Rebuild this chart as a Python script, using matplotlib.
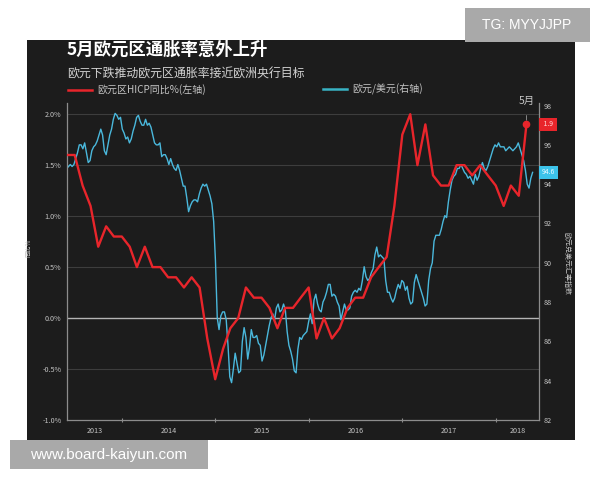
import matplotlib
matplotlib.use("Agg")
import matplotlib.pyplot as plt
import matplotlib.dates as mdates
import matplotlib.transforms as mtransforms
from matplotlib.patches import Rectangle
from matplotlib.lines import Line2D
import pandas as pd

plt.rcParams["font.family"] = ["Noto Sans CJK SC", "DejaVu Sans"]

BG = "#1c1c1c"
RED = "#e8252b"
CYAN = "#4ab8dc"
GRID = "#3d3d3d"
TXT = "#c4c4c4"
SPINE = "#8c8c8c"

title = "5月欧元区通胀率意外上升"
subtitle = "欧元下跌推动欧元区通胀率接近欧洲央行目标"
red_label = "欧元区HICP同比%(左轴)"
cyan_label = "欧元/美元(右轴)"
left_axis_label = "同比%"
right_axis_label = "欧元兑美元汇率指数"

# Eurozone HICP y/y, monthly from June 2013
hicp_start = "2013-06-01"
hicp = [1.6, 1.6, 1.3, 1.1, 0.7, 0.9, 0.8,
        0.8, 0.7, 0.5, 0.7, 0.5, 0.5, 0.4, 0.4, 0.3, 0.4, 0.3, -0.2,
        -0.6, -0.3, -0.1, 0.0, 0.3, 0.2, 0.2, 0.1, -0.1, 0.1, 0.1, 0.2,
        0.3, -0.2, 0.0, -0.2, -0.1, 0.1, 0.2, 0.2, 0.4, 0.5, 0.6, 1.1,
        1.8, 2.0, 1.5, 1.9, 1.4, 1.3, 1.3, 1.5, 1.5, 1.4, 1.5, 1.4,
        1.3, 1.1, 1.3, 1.2, 1.9]

# EUR/USD index, weekly from end of May 2013
eur_start = "2013-05-31"
eur = [94.8, 94.9, 95.0, 94.9, 95.0, 95.3, 95.6, 96.0, 96.0, 95.8,
       96.1, 95.6, 95.1, 95.2, 95.7, 95.9, 96.0, 96.2, 96.5, 96.8,
       96.5, 95.7, 95.5, 96.0, 96.5, 96.8, 97.3, 97.6, 97.5, 97.3,
       97.4, 96.8, 96.6, 96.3, 96.4, 96.1, 96.3, 96.7, 97.0, 97.4,
       97.5, 97.2, 97.0, 97.0, 97.3, 97.0, 97.1, 96.9, 96.5, 96.1,
       96.0, 96.0, 96.1, 95.4, 95.5, 95.5, 95.3, 95.0, 95.3, 95.0,
       94.8, 94.7, 95.0, 94.7, 94.3, 93.9, 93.9, 93.3, 92.6, 92.9,
       93.1, 93.2, 93.2, 93.1, 93.5, 93.8, 94.0, 93.9, 94.0, 93.7,
       93.4, 93.0, 92.1, 90.1, 87.2, 86.6, 87.3, 87.5, 87.5, 87.1,
       85.8, 84.2, 83.9, 84.6, 85.4, 84.9, 84.4, 84.5, 86.0, 86.7,
       86.2, 85.1, 85.7, 86.6, 86.2, 86.2, 86.3, 85.9, 85.8, 85.0,
       85.3, 85.8, 86.3, 86.8, 87.2, 87.4, 87.1, 87.7, 87.9, 87.5,
       87.6, 87.9, 87.6, 86.5, 85.8, 85.5, 85.1, 84.5, 84.4, 85.6,
       86.2, 86.1, 86.3, 86.4, 86.5, 87.0, 87.4, 86.9, 88.1, 88.4,
       87.9, 87.6, 87.5, 88.0, 88.2, 88.5, 88.9, 88.9, 88.3, 88.4,
       88.3, 88.0, 87.8, 87.1, 87.5, 87.9, 87.6, 87.6, 87.7, 88.3,
       88.5, 88.6, 88.5, 88.7, 88.6, 89.1, 89.8, 89.3, 89.1, 89.2,
       89.5, 89.7, 90.4, 90.8, 90.3, 90.4, 90.3, 90.2, 89.1, 88.5,
       88.5, 88.2, 88.0, 88.2, 88.6, 88.9, 88.7, 89.1, 89.0, 88.6,
       88.8, 88.2, 87.9, 88.0, 89.0, 89.4, 89.1, 88.8, 88.5, 88.2,
       87.8, 87.9, 89.1, 89.7, 90.0, 91.1, 91.4, 91.4, 91.4, 91.7,
       92.1, 92.4, 92.3, 93.1, 93.7, 94.2, 94.4, 94.5, 94.8, 94.8,
       95.0, 94.8, 94.6, 94.5, 94.3, 94.4, 94.2, 94.0, 94.5, 94.2,
       94.4, 94.8, 95.1, 94.8, 94.7, 94.9, 95.2, 95.5, 95.8, 96.0,
       95.9, 96.1, 95.9, 95.9, 95.9, 95.7, 95.8, 95.9, 95.8, 95.7,
       95.8, 95.9, 96.1, 95.8, 95.5, 95.2, 94.7, 94.0, 93.8, 94.3,
       94.6]

left_ticks = [-1.0, -0.5, 0.0, 0.5, 1.0, 1.5, 2.0]
right_ticks = [82, 84, 86, 88, 90, 92, 94, 96, 98]
years = [2013, 2014, 2015, 2016, 2017, 2018]
x_range = ("2013-06-01", "2018-06-19")

hicp_dates = pd.date_range(hicp_start, periods=len(hicp), freq="MS")
eur_dates = pd.date_range(eur_start, periods=len(eur), freq="7D")

fig = plt.figure(figsize=(6, 4.8), dpi=100)
fig.patch.set_facecolor("white")
fig.add_artist(Rectangle((27 / 600, 40 / 480), 548 / 600, 400 / 480,
                         transform=fig.transFigure, facecolor=BG,
                         edgecolor="none", zorder=0))

rect = [67 / 600, 60 / 480, 472 / 600, 317 / 480]
ax = fig.add_axes(rect)
ax2 = ax.twinx()
ax.set_zorder(2)
ax2.set_zorder(1)
ax.patch.set_visible(False)
ax2.patch.set_visible(False)

xmin, xmax = mdates.date2num(pd.to_datetime(list(x_range)))
ax.set_xlim(xmin, xmax)
ax.set_ylim(-1.0, 2.11)
ax2.set_ylim(82, 98.13)

# grid lines behind both series
grid_tf = mtransforms.blended_transform_factory(ax2.transAxes, ax.transData)
for v in left_ticks[1:]:
    ax2.plot([0, 1], [v, v], transform=grid_tf,
             color="#b4b4b4" if v == 0 else GRID,
             lw=1.0 if v == 0 else 0.8, zorder=0)

ax2.plot(mdates.date2num(eur_dates), eur, color=CYAN, lw=1.0, zorder=2)
ax.plot(mdates.date2num(hicp_dates), hicp, color=RED, lw=1.7, zorder=3)

# last HICP point
last_x = mdates.date2num(hicp_dates[-1])
ax.plot([last_x], [hicp[-1]], "o", color=RED, ms=4.5, zorder=4)
ax.annotate("5月", xy=(last_x, hicp[-1]), xytext=(0, 17),
            textcoords="offset points", ha="center", va="center",
            fontsize=7.5, color=TXT, annotation_clip=False,
            arrowprops=dict(arrowstyle="-", color="#9a9a9a", lw=0.6,
                            shrinkA=5, shrinkB=3))

# end value tags
ax.annotate(f" {hicp[-1]:.1f} ", xy=(1.0, hicp[-1]),
            xycoords=("axes fraction", "data"), xytext=(2, 0),
            textcoords="offset points", ha="left", va="center",
            fontsize=5, color="#ffdada", annotation_clip=False,
            bbox=dict(boxstyle="square,pad=0.4", fc=RED, ec="none"))
ax2.annotate(f"{eur[-1]:.1f}", xy=(1.0, eur[-1]),
             xycoords=("axes fraction", "data"), xytext=(2, 0),
             textcoords="offset points", ha="left", va="center",
             fontsize=5, color="#e6f8ff", annotation_clip=False,
             bbox=dict(boxstyle="square,pad=0.4", fc="#3cc3ea", ec="none"))

# axes styling
for s in ["top", "right"]:
    ax.spines[s].set_visible(False)
for s in ["left", "bottom"]:
    ax.spines[s].set_color(SPINE)
    ax.spines[s].set_linewidth(0.9)
for s in ["top", "left", "bottom"]:
    ax2.spines[s].set_visible(False)
ax2.spines["right"].set_color(SPINE)
ax2.spines["right"].set_linewidth(0.9)

ax.set_yticks(left_ticks)
ax.set_yticklabels([f"{v:.1f}%" for v in left_ticks])
ax.tick_params(axis="y", length=0, pad=4, labelsize=5.2, labelcolor=TXT)
ax2.set_yticks(right_ticks)
ax2.set_yticklabels([str(v) for v in right_ticks])
ax2.tick_params(axis="y", length=0, pad=3, labelsize=5.2, labelcolor=TXT)

bounds = [mdates.date2num(pd.Timestamp(f"{y}-01-01")) for y in years[1:]]
mids = []
for y in years:
    a = max(mdates.date2num(pd.Timestamp(f"{y}-01-01")), xmin)
    b = min(mdates.date2num(pd.Timestamp(f"{y + 1}-01-01")), xmax)
    mids.append((a + b) / 2)
ax.set_xticks(bounds)
ax.set_xticklabels([])
ax.set_xticks(mids, minor=True)
ax.set_xticklabels([str(y) for y in years], minor=True)
ax.tick_params(axis="x", which="major", length=3, width=0.8, color=SPINE,
               direction="inout")
ax.tick_params(axis="x", which="minor", length=0, pad=5, labelsize=5.2,
               labelcolor=TXT)

fig.text(28 / 600, 1 - 248 / 480, left_axis_label, rotation=90,
         fontsize=4.5, color=TXT, ha="center", va="center")
fig.text(567 / 600, 1 - 263 / 480, right_axis_label, rotation=-90,
         fontsize=5, color=TXT, ha="center", va="center")

# title block and legend
fig.text(67 / 600, 1 - 50 / 480, title, fontsize=12.5, fontweight="bold",
         color="white", ha="left", va="center")
fig.text(67 / 600, 1 - 74 / 480, subtitle, fontsize=8.6, color="#d2d2d2",
         ha="left", va="center")
fig.add_artist(Line2D([68 / 600, 92 / 600], [1 - 90 / 480] * 2, color=RED,
                      lw=1.8, transform=fig.transFigure))
fig.text(97 / 600, 1 - 90 / 480, red_label, fontsize=7.2, color=TXT,
         ha="left", va="center")
fig.add_artist(Line2D([323 / 600, 347 / 600], [1 - 89 / 480] * 2,
                      color="#38b3c4", lw=1.8, transform=fig.transFigure))
fig.text(352 / 600, 1 - 89 / 480, cyan_label, fontsize=7.2, color=TXT,
         ha="left", va="center")

# watermark boxes
fig.add_artist(Rectangle((465 / 600, 1 - 42 / 480), 125 / 600, 34 / 480,
                         transform=fig.transFigure, facecolor="#a9a9a9",
                         edgecolor="none", zorder=5))
fig.text(527 / 600, 1 - 25 / 480, "TG: MYYJJPP", fontsize=10,
         family="Liberation Sans", color="white", ha="center", va="center",
         zorder=6)
fig.add_artist(Rectangle((10 / 600, 1 - 469 / 480), 198 / 600, 29 / 480,
                         transform=fig.transFigure, facecolor="#a9a9a9",
                         edgecolor="none", zorder=5))
fig.text(109 / 600, 1 - 455 / 480, "www.board-kaiyun.com", fontsize=11,
         family="Liberation Sans", color="white", ha="center", va="center",
         zorder=6)

fig.savefig("out.png", dpi=100, facecolor="white")
